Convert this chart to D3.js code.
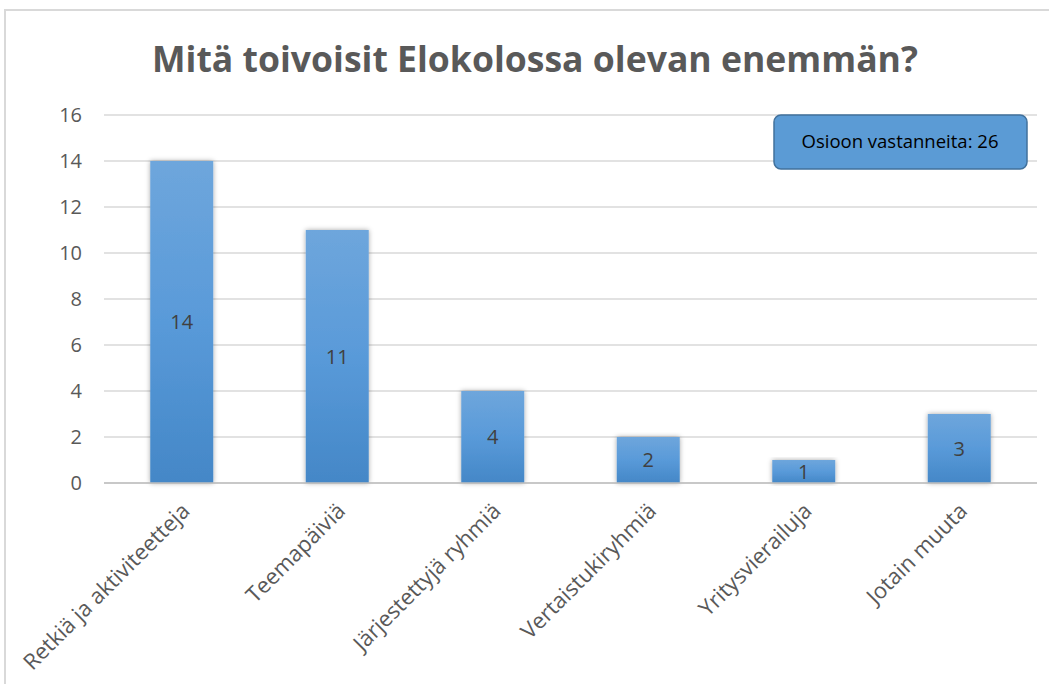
<!DOCTYPE html>
<html>
<head>
<meta charset="utf-8">
<script src="https://cdn.jsdelivr.net/npm/d3@7"></script>
<style>
  body { margin: 0; background: #fff; }
  svg { display: block; font-family: "Open Sans", sans-serif; }
</style>
</head>
<body>
<div id="chart"></div>
<script>
// data
const categories = ["Retkiä ja aktiviteetteja", "Teemapäiviä", "Järjestettyjä ryhmiä",
  "Vertaistukiryhmiä", "Yritysvierailuja", "Jotain muuta"];
const values = [14, 11, 4, 2, 1, 3];
const yTicks = [0, 2, 4, 6, 8, 10, 12, 14, 16];
const title = "Mitä toivoisit Elokolossa olevan enemmän?";
const note = "Osioon vastanneita: 26";

const width = 1049, height = 684;
const plotLeft = 104, plotRight = 1037, plotTop = 115, plotBottom = 483;

const svg = d3.select('#chart').append('svg')
  .attr('width', width)
  .attr('height', height);

const defs = svg.append('defs');
const grad = defs.append('linearGradient')
  .attr('id', 'barGrad').attr('x1', 0).attr('y1', 0).attr('x2', 0).attr('y2', 1);
grad.append('stop').attr('offset', '0%').attr('stop-color', '#6ea6dc');
grad.append('stop').attr('offset', '50%').attr('stop-color', '#599ad9');
grad.append('stop').attr('offset', '100%').attr('stop-color', '#4487c7');

const shadow = defs.append('filter').attr('id', 'shadow')
  .attr('x', '-30%').attr('y', '-10%').attr('width', '160%').attr('height', '120%');
shadow.append('feDropShadow')
  .attr('dx', 0).attr('dy', 0).attr('stdDeviation', 2.5)
  .attr('flood-color', '#000').attr('flood-opacity', 0.35);

// chart border
svg.append('rect')
  .attr('x', 5).attr('y', 10)
  .attr('width', width + 20).attr('height', height + 20)
  .attr('fill', 'none')
  .attr('stroke', '#d9d9d9')
  .attr('stroke-width', 2);

// title
const t = svg.append('text')
  .attr('x', 535).attr('y', 72)
  .attr('text-anchor', 'middle')
  .attr('fill', '#595959')
  .attr('font-weight', 'bold')
  .attr('font-size', 34)
  .text(title);
// fit title to width seen in the picture
const tw = t.node().getComputedTextLength();
t.attr('font-size', 34 * 766 / tw);

const x = d3.scaleBand()
  .domain(categories)
  .range([plotLeft, plotRight])
  .paddingInner(0.595)
  .paddingOuter(0.2975);

const y = d3.scaleLinear()
  .domain([0, 16])
  .range([plotBottom, plotTop]);

// gridlines
svg.append('g')
  .selectAll('line')
  .data(yTicks)
  .enter().append('line')
    .attr('x1', plotLeft).attr('x2', plotRight)
    .attr('y1', d => y(d)).attr('y2', d => y(d))
    .attr('stroke', '#d9d9d9')
    .attr('stroke-width', 1.5);

// y axis labels
const yAxis = d3.axisLeft(y).tickValues(yTicks).tickSize(0).tickPadding(0);
const yg = svg.append('g')
  .attr('transform', `translate(82,0)`)
  .call(yAxis);
yg.select('.domain').remove();
yg.selectAll('text')
  .attr('font-family', '"Open Sans", sans-serif')
  .attr('font-size', 20)
  .attr('fill', '#595959');

// bars
svg.append('g')
  .selectAll('rect')
  .data(values)
  .enter().append('rect')
    .attr('x', (d, i) => x(categories[i]))
    .attr('y', d => y(d))
    .attr('width', x.bandwidth())
    .attr('height', d => plotBottom - y(d))
    .attr('fill', 'url(#barGrad)')
    .attr('filter', 'url(#shadow)');

// baseline
svg.append('line')
  .attr('x1', plotLeft).attr('x2', plotRight)
  .attr('y1', y(0)).attr('y2', y(0))
  .attr('stroke', '#bfbfbf')
  .attr('stroke-width', 1.5);

// value labels
svg.append('g')
  .selectAll('text')
  .data(values)
  .enter().append('text')
    .attr('x', (d, i) => x(categories[i]) + x.bandwidth() / 2)
    .attr('y', d => (y(d) + plotBottom) / 2)
    .attr('dy', '0.35em')
    .attr('text-anchor', 'middle')
    .attr('font-size', 20)
    .attr('fill', '#404040')
    .text(d => d);

// x axis labels, rotated
const xAxis = d3.axisBottom(x).tickSize(0).tickPadding(0);
const xg = svg.append('g')
  .attr('transform', `translate(0,${plotBottom})`)
  .call(xAxis);
xg.select('.domain').remove();
xg.selectAll('text')
  .attr('font-family', '"Open Sans", sans-serif')
  .attr('font-size', 22)
  .attr('fill', '#595959')
  .attr('text-anchor', 'end')
  .attr('dy', '0.35em')
  .attr('transform', 'translate(4,24) rotate(-45)');

// note box
const nb = svg.append('g');
nb.append('rect')
  .attr('x', 774).attr('y', 115)
  .attr('width', 253).attr('height', 54)
  .attr('rx', 7)
  .attr('fill', '#5b9bd5')
  .attr('stroke', '#41719c')
  .attr('stroke-width', 1.5);
nb.append('text')
  .attr('x', 900).attr('y', 142)
  .attr('dy', '0.35em')
  .attr('text-anchor', 'middle')
  .attr('font-size', 18.5)
  .attr('fill', '#000')
  .text(note);
</script>
</body>
</html>
